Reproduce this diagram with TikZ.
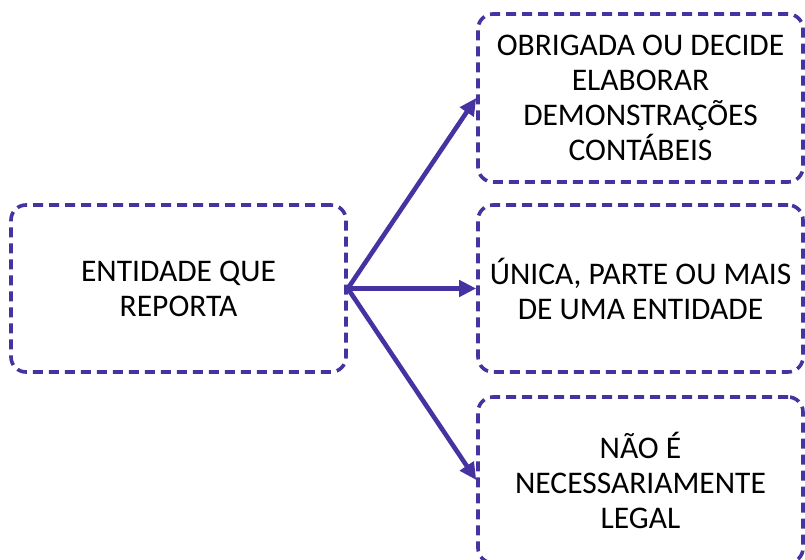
\documentclass[tikz,border=0pt]{standalone}
\usepackage{fontspec}
\setmainfont{Carlito}
\usepackage{tikz}
\usetikzlibrary{arrows.meta}
\usetikzlibrary{positioning}

\definecolor{roxo}{RGB}{70,50,160}

\begin{document}
\begin{tikzpicture}[x=1pt,y=1pt,
    caixa/.style={draw=roxo, line width=3.6pt, dash pattern=on 10pt off 6pt,
      rounded corners=15pt, align=center, inner sep=0pt,
      font=\fontsize{31.5}{35}\selectfont},
    seta/.style={draw=roxo, line width=4.6pt,
      -{Triangle[length=17pt,width=16pt]}}]
  \useasboundingbox (0,0) rectangle (805,559);

  %% entidade
  \node[caixa, minimum width=335pt, minimum height=167pt] (ent) at (178.5,270.5)
    {ENTIDADE QUE\\REPORTA};

  %% caracteristicas
  \node[caixa, minimum width=325pt, minimum height=168pt] (obr) at (640.5,461)
    {OBRIGADA OU DECIDE\\ELABORAR\\DEMONSTRAÇÕES\\CONTÁBEIS};
  \node[caixa, minimum width=325pt, minimum height=167pt] (uni) at (640.5,270.5)
    {ÚNICA, PARTE OU MAIS\\DE UMA ENTIDADE};
  \node[caixa, minimum width=325pt, minimum height=166pt] (leg) at (640.5,79)
    {NÃO É\\NECESSARIAMENTE\\LEGAL};

  % setas
  \draw[seta] (ent.east) -- (obr.west);
  \draw[seta] (ent.east) -- (uni.west);
  \draw[seta] (ent.east) -- (leg.west);
\end{tikzpicture}
\end{document}
